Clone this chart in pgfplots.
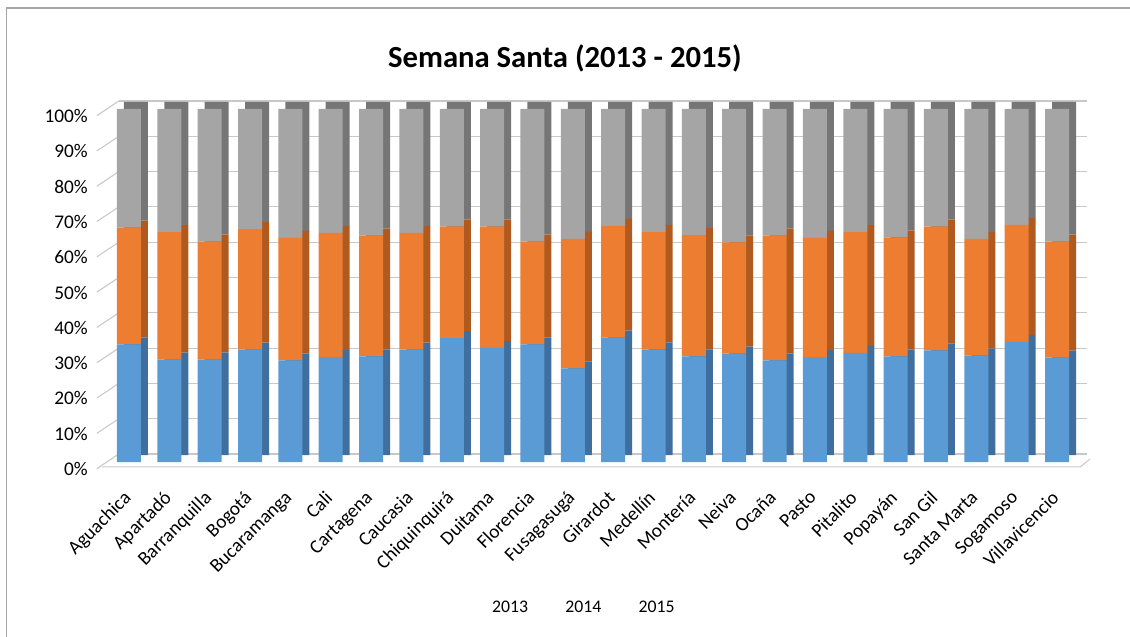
\documentclass[border=0pt]{standalone}
\usepackage{pgfplots}
\usepackage{pgfplotstable}
\pgfplotsset{compat=1.18}
\usepackage{fontspec}
\setmainfont{Carlito}
\definecolor{cblue}{HTML}{5B9BD5}
\definecolor{corange}{HTML}{ED7D31}
\definecolor{cgray}{HTML}{A5A5A5}
\definecolor{dblue}{HTML}{3F6F9E}
\definecolor{dorange}{HTML}{B05A20}
\definecolor{dgray}{HTML}{767676}
\definecolor{gridc}{HTML}{C8C8C8}
\pgfplotstableread{
x a b c
0 33.3 33.1 33.6
1 29.0 36.1 34.9
2 29.0 33.4 37.6
3 31.8 34.2 34.0
4 28.8 34.7 36.5
5 29.7 35.2 35.1
6 29.9 34.2 35.9
7 31.8 33.1 35.1
8 35.1 31.6 33.3
9 32.3 34.4 33.3
10 33.3 29.1 37.6
11 26.5 36.7 36.8
12 35.2 31.7 33.1
13 31.9 33.2 34.9
14 29.9 34.4 35.7
15 30.7 31.5 37.8
16 28.8 35.3 35.9
17 29.7 33.8 36.5
18 30.9 34.2 34.9
19 29.9 33.7 36.4
20 31.6 35.1 33.3
21 30.2 33.0 36.8
22 34.0 33.2 32.8
23 29.6 32.8 37.6
}\data
\begin{document}
\begin{tikzpicture}
\useasboundingbox (0,0) rectangle (847.5pt,477pt);
% chart frame
\draw[color=gray!70, line width=0.8pt] (5pt,-5pt) -- (5pt,471pt) -- (860pt,471pt);
% back wall with gridlines
\begin{axis}[
  at={(89.1pt,136.5pt)}, anchor=south west,
  scale only axis, width=726.3pt, height=264.75pt,
  xmin=-0.5, xmax=23.5, ymin=0, ymax=100,
  axis line style={draw=none}, major tick length=0pt, clip=false,
  ytick={0,10,...,100}, xtick=\empty,
  ymajorgrids, grid style={gridc, line width=0.8pt},
  yticklabels={},
]
\addplot[draw=none] coordinates {(0,0)};
\pgfplotsinvokeforeach{0,10,20,30,40,50,60,70,80,90,100}{
  \draw[gridc, line width=0.8pt] ([shift={(-16.5pt,-11pt)}]axis cs:-0.5,#1) -- (axis cs:-0.5,#1);
}
\end{axis}
% side / top faces (shifted darker copy)
\begin{axis}[
  at={(86.85pt,135.75pt)}, anchor=south west,
  scale only axis, width=726.3pt, height=264.75pt,
  xmin=-0.5, xmax=23.5, ymin=0, ymax=100,
  axis line style={draw=none}, major tick length=0pt,
  xtick=\empty, ytick=\empty,
  ybar stacked, bar width=18pt,
]
\addplot[fill=dblue, draw=none] table[x=x, y=a] {\data};
\addplot[fill=dorange, draw=none] table[x=x, y=b] {\data};
\addplot[fill=dgray, draw=none] table[x=x, y=c] {\data};
\end{axis}
% front faces
\begin{axis}[
  at={(81.6pt,130.5pt)}, anchor=south west,
  scale only axis, width=726.3pt, height=264.75pt,
  xmin=-0.5, xmax=23.5, ymin=0, ymax=100,
  axis line style={draw=none}, clip=false,
  ybar stacked, bar width=18pt,
  ytick={0,10,...,100},
  yticklabel={\pgfmathprintnumber{\tick}\%},
  yticklabel style={font=\fontsize{14.5}{16}\selectfont, anchor=east, inner sep=0pt, xshift=-15.6pt, yshift=-5.25pt},
  /pgf/number format/assume math mode=true,
  xtick={0,...,23},
  xticklabels={Aguachica,Apartadó,Barranquilla,Bogotá,Bucaramanga,Cali,Cartagena,Caucasia,Chiquinquirá,Duitama,Florencia,Fusagasugá,Girardot,Medellín,Montería,Neiva,Ocaña,Pasto,Pitalito,Popayán,San Gil,Santa Marta,Sogamoso,Villavicencio},
  xticklabel style={font=\fontsize{14.5}{16}\selectfont, rotate=45, anchor=north east, inner sep=0pt, xshift=-18pt, yshift=-11pt},
  major tick length=0pt,
  legend style={at={(0.490,-0.4136)}, anchor=center, draw=none, fill=none,
    font=\fontsize{13.3}{15}\selectfont, legend columns=3,
    /tikz/every even column/.append style={column sep=24pt}},
  legend image code/.code={},
]
\addplot[fill=cblue, draw=none] table[x=x, y=a] {\data};
\addplot[fill=corange, draw=none] table[x=x, y=b] {\data};
\addplot[fill=cgray, draw=none] table[x=x, y=c] {\data};
\legend{2013,2014,2015}
\node[font=\bfseries\fontsize{23}{26}\selectfont] at (rel axis cs:0.471,1.1445) {Semana Santa (2013 - 2015)};
\draw[gridc, line width=0.8pt] (rel axis cs:-0.007,-0.014) -- (rel axis cs:1.003,-0.014) -- ([shift={(7.5pt,6pt)}]rel axis cs:1.003,-0.014);
\end{axis}
\end{tikzpicture}
\end{document}
